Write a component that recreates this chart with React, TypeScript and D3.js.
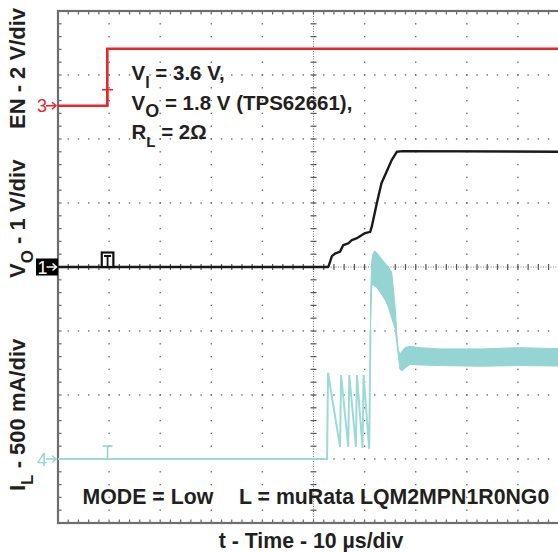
import React from "react";
import * as d3 from "d3";

// ---- data (time in µs from left edge, 10 µs/div) ----
const EN_T = [0, 9.65, 9.65, 10.8, 100];
const EN_V = [0, 0, 1.78, 1.78, 1.78];

const VO_T = [0, 52.9, 53.6, 54.2, 55.2, 55.8, 56.8, 57.5, 58.5, 59.1, 60.1, 61.1, 61.4, 62.4, 63.3, 64.3, 65.3, 66.3, 67.5, 100];
const VO_V = [0, 0, 0.17, 0.21, 0.24, 0.34, 0.37, 0.42, 0.45, 0.48, 0.53, 0.55, 0.63, 1.0, 1.31, 1.49, 1.67, 1.8, 1.81, 1.8];

const IL_SW_T = [0, 52.65, 52.85, 55.2, 55.4, 56.8, 57.0, 58.3, 58.5, 59.6, 59.8, 60.9, 61.15];
const IL_SW_A = [0, 0, 0.672, 0.094, 0.656, 0.094, 0.656, 0.094, 0.656, 0.086, 0.656, 0.078, 1.01];

const IL_BAND_T = [61.15, 61.4, 61.7, 62.0, 62.4, 63.0, 63.6, 64.2, 64.7, 65.0, 65.3, 65.65, 65.95, 66.3, 66.6, 66.93, 67.3, 67.9, 68.9, 70.8, 74.8, 82.6, 90.4, 100];
const IL_BAND_HI = [1.24, 1.55, 1.61, 1.625, 1.61, 1.58, 1.55, 1.52, 1.5, 1.48, 1.46, 1.32, 1.2, 0.98, 0.85, 0.82, 0.84, 0.87, 0.88, 0.87, 0.86, 0.86, 0.87, 0.86];
const IL_BAND_LO = [1.01, 1.36, 1.36, 1.35, 1.34, 1.305, 1.27, 1.23, 1.18, 1.14, 1.1, 1.06, 1.02, 0.91, 0.81, 0.7, 0.69, 0.71, 0.74, 0.735, 0.73, 0.725, 0.73, 0.725];

const TRIGGER_T = 9.7;

// channel offsets (divisions from centre) and scale (units per division)
const EN_OFFSET = 2.52, EN_PER_DIV = 2;
const VO_OFFSET = 0, VO_PER_DIV = 1;
const IL_OFFSET = -3, IL_PER_DIV = 0.5;

const LEFT_LABELS = ["EN - 2 V/div", "V|O| - 1 V/div", "I|L| - 500 mA/div"];
const X_LABEL = "t - Time - 10 µs/div";

// ---- layout ----
const W = 558, H = 552;
const X0 = 58, Y0 = 11, DIVW = 51.1, DIVH = 64, NX = 10, NY = 8;
const X1 = X0 + NX * DIVW, Y1 = Y0 + NY * DIVH;

const RED = "#e8262c";
const TEAL = "#94d4d2";
const TEAL_LINE = "#9fd9d7";
const INK = "#231f20";
const FONT = "'Liberation Sans', Arial, Helvetica, sans-serif";

export default function App() {
  const x = d3.scaleLinear().domain([0, 100]).range([X0, X1]);
  const div = d3.scaleLinear().domain([-4, 4]).range([Y1, Y0]);
  const yEN = (v: number) => div(EN_OFFSET + v / EN_PER_DIV);
  const yVO = (v: number) => div(VO_OFFSET + v / VO_PER_DIV);
  const yIL = (v: number) => div(IL_OFFSET + v / IL_PER_DIV);

  const line = d3.line<[number, number]>().x((d) => d[0]).y((d) => d[1]);
  const enPath = line(EN_T.map((t, i) => [x(t), yEN(EN_V[i])]));
  const voPath = line(VO_T.map((t, i) => [x(t), yVO(VO_V[i])]));
  const ilSwPath = line(IL_SW_T.map((t, i) => [x(t), yIL(IL_SW_A[i])]));
  const band = d3
    .area<number>()
    .x((_, i) => x(IL_BAND_T[i]))
    .y0((_, i) => yIL(IL_BAND_LO[i]))
    .y1((_, i) => yIL(IL_BAND_HI[i]));
  const bandPath = band(IL_BAND_T);

  const minorX = d3.range(0, NX * 5 + 1).map((j) => X0 + (j * DIVW) / 5);
  const minorY = d3.range(0, NY * 5 + 1).map((j) => Y0 + (j * DIVH) / 5);
  const cx = X0 + 5 * DIVW, cy = Y0 + 4 * DIVH;

  const grid: React.ReactNode[] = [];
  d3.range(1, NX).forEach((i) => {
    if (i === 5) return;
    const gx = X0 + i * DIVW;
    minorY.forEach((yy, j) => grid.push(<rect key={`v${i}-${j}`} x={gx - 0.7} y={yy - 0.7} width={1.4} height={1.4} fill="#6a6a6a" />));
  });
  d3.range(1, NY).forEach((k) => {
    if (k === 4) return;
    const gy = Y0 + k * DIVH;
    minorX.forEach((xx, j) => grid.push(<rect key={`h${k}-${j}`} x={xx - 0.7} y={gy - 0.7} width={1.4} height={1.4} fill="#6a6a6a" />));
  });

  const trig = x(TRIGGER_T);

  const sub = (label: string, size: number, subSize: number, dy: number) => {
    const parts = label.split("|");
    if (parts.length === 1) return label;
    return [
      <tspan key="a">{parts[0]}</tspan>,
      <tspan key="b" fontSize={subSize} dy={dy}>{parts[1]}</tspan>,
      <tspan key="c" fontSize={size} dy={-dy}>{parts[2]}</tspan>,
    ];
  };

  const arrow = (ax: number, ay: number, color: string) => (
    <path d={`M${ax},${ay} H${ax + 10} M${ax + 6},${ay - 3.5} L${ax + 10},${ay} L${ax + 6},${ay + 3.5}`} stroke={color} strokeWidth={1.5} fill="none" />
  );

  const labelStarts = [129, 278, 491];

  return (
    <svg width={W} height={H} style={{ position: "absolute", left: 0, top: 0, display: "block", background: "#fff" }} fontFamily={FONT}>
      <rect x={0} y={0} width={W} height={H} fill="#fff" />
      {/* grid */}
      <g>{grid}</g>
      {/* centre cross */}
      <line x1={cx} x2={cx} y1={Y0} y2={Y1} stroke="#7a7a7a" strokeWidth={1} strokeDasharray="1 1.5" />
      <line x1={X0} x2={X1} y1={cy} y2={cy} stroke="#7a7a7a" strokeWidth={1} strokeDasharray="1 1.5" />
      {minorY.map((yy, j) => (
        <line key={`cyt${j}`} x1={cx - 3} x2={cx + 3} y1={yy} y2={yy} stroke="#555" strokeWidth={1.2} />
      ))}
      {minorX.map((xx, j) => (
        <line key={`cxt${j}`} x1={xx} x2={xx} y1={cy - 3} y2={cy + 3} stroke="#555" strokeWidth={1.2} />
      ))}
      {/* border ticks */}
      {minorY.map((yy, j) => (
        <line key={`lt${j}`} x1={X0} x2={X0 + 3.5} y1={yy} y2={yy} stroke="#666" strokeWidth={1.2} />
      ))}
      {minorX.map((xx, j) => (
        <g key={`tb${j}`}>
          <line x1={xx} x2={xx} y1={Y0} y2={Y0 + 3.5} stroke="#666" strokeWidth={1.2} />
          <line x1={xx} x2={xx} y1={Y1 - 3.5} y2={Y1} stroke="#666" strokeWidth={1.2} />
        </g>
      ))}
      {/* border */}
      <rect x={X0} y={Y0} width={X1 - X0} height={Y1 - Y0} fill="none" stroke="#6e6e6e" strokeWidth={2.2} />

      {/* IL trace */}
      <path d={bandPath || ""} fill={TEAL} stroke={TEAL} strokeWidth={1} />
      <path d={ilSwPath || ""} fill="none" stroke={TEAL_LINE} strokeWidth={2} />
      {/* EN trace */}
      <path d={enPath || ""} fill="none" stroke={RED} strokeWidth={2.6} />
      {/* VO trace */}
      <path d={voPath || ""} fill="none" stroke="#1a1a1a" strokeWidth={2.4} strokeLinejoin="round" />

      {/* trigger markers */}
      <line x1={trig - 5.5} x2={trig + 5.5} y1={yEN(0) - 16} y2={yEN(0) - 16} stroke={RED} strokeWidth={1.6} />
      <line x1={trig} x2={trig} y1={yEN(0) - 16} y2={yEN(0)} stroke={RED} strokeWidth={1.6} />
      <rect x={trig - 5.8} y={yVO(0) - 14.5} width={11.6} height={14.5} fill="#fff" stroke="#111" strokeWidth={2.2} />
      <path d={`M${trig - 3.5},${yVO(0) - 11} H${trig + 3.5} M${trig},${yVO(0) - 11} V${yVO(0)}`} stroke="#111" strokeWidth={1.8} fill="none" />
      <line x1={trig - 5} x2={trig + 5} y1={yIL(0) - 13} y2={yIL(0) - 13} stroke={TEAL} strokeWidth={1.6} />
      <line x1={trig} x2={trig} y1={yIL(0) - 13} y2={yIL(0)} stroke={TEAL} strokeWidth={1.6} />

      {/* channel markers */}
      <text x={37} y={yEN(0) + 6.5} fontSize={18} fill={RED}>3</text>
      {arrow(46, yEN(0), RED)}
      <rect x={36} y={yVO(0) - 8.5} width={22} height={17} fill="#000" />
      <text x={37.5} y={yVO(0) + 6.5} fontSize={18} fill="#fff">1</text>
      {arrow(46.5, yVO(0), "#fff")}
      <text x={37} y={yIL(0) + 6.5} fontSize={18} fill={TEAL}>4</text>
      {arrow(46, yIL(0), TEAL)}

      {/* left axis labels */}
      {LEFT_LABELS.map((lab, i) => (
        <text key={lab} transform={`translate(24.5,${labelStarts[i]}) rotate(-90)`} fontSize={22} fontWeight="bold" fill={INK}>
          {sub(lab, 22, 17, 8)}
        </text>
      ))}

      {/* annotation */}
      <g fontSize={20.5} fontWeight="bold" fill={INK}>
        <text x={131.5} y={80}>
          V<tspan fontSize={16} dy={8}>I</tspan><tspan fontSize={20.5} dy={-8}> = 3.6 V,</tspan>
        </text>
        <text x={131.5} y={110}>
          V<tspan fontSize={18} dy={7}>O</tspan><tspan fontSize={20.5} dy={-7}> = 1.8 V (TPS62661),</tspan>
        </text>
        <text x={131.5} y={139}>
          R<tspan fontSize={15} dy={8}>L</tspan><tspan fontSize={20.5} dy={-8}> = 2Ω</tspan>
        </text>
      </g>
      <g fontSize={21.3} fontWeight="bold" fill={INK}>
        <text x={82.5} y={504}>MODE = Low</text>
        <text x={239} y={504}>L = muRata LQM2MPN1R0NG0</text>
        <text x={311} y={548} textAnchor="middle">{X_LABEL}</text>
      </g>
    </svg>
  );
}
